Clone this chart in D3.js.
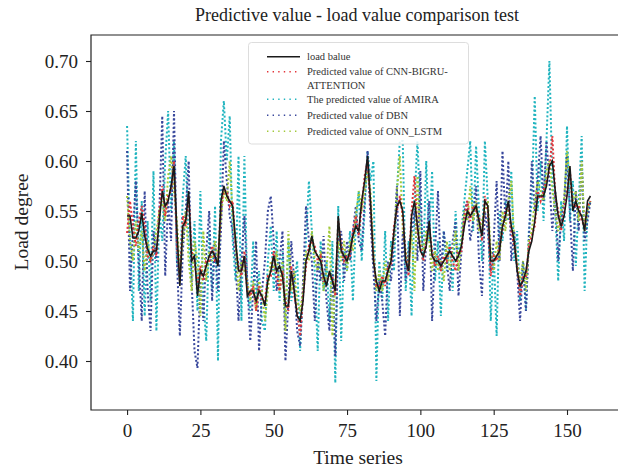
<!DOCTYPE html>
<html>
<head>
<meta charset="utf-8">
<script src="https://cdn.jsdelivr.net/npm/d3@7"></script>
<style>
  body { margin: 0; background: #fff; }
  svg { display: block; font-family: "Liberation Serif", "DejaVu Serif", serif; }
</style>
</head>
<body>
<div id="chart"></div>
<script>
// load value (black line)
const loadValue = [
  0.545,0.545,0.523,0.523,0.530,0.548,0.525,0.512,0.505,0.510,
  0.510,0.540,0.570,0.555,0.560,0.575,0.595,0.530,0.475,0.535,
  0.540,0.570,0.500,0.505,0.465,0.490,0.485,0.495,0.505,0.510,
  0.505,0.495,0.560,0.575,0.565,0.560,0.555,0.520,0.490,0.490,
  0.505,0.465,0.470,0.470,0.460,0.470,0.465,0.455,0.480,0.490,
  0.505,0.490,0.495,0.485,0.455,0.455,0.490,0.470,0.445,0.440,
  0.460,0.500,0.510,0.525,0.510,0.505,0.500,0.485,0.475,0.490,
  0.480,0.470,0.545,0.510,0.505,0.500,0.510,0.525,0.535,0.530,
  0.560,0.580,0.605,0.560,0.500,0.480,0.470,0.480,0.480,0.490,
  0.500,0.530,0.555,0.560,0.550,0.500,0.490,0.545,0.560,0.535,
  0.510,0.505,0.515,0.540,0.505,0.500,0.500,0.495,0.500,0.505,
  0.510,0.505,0.500,0.505,0.515,0.535,0.550,0.545,0.550,0.555,
  0.540,0.525,0.560,0.555,0.500,0.500,0.505,0.510,0.535,0.545,
  0.560,0.535,0.520,0.490,0.475,0.480,0.490,0.510,0.520,0.540,
  0.565,0.565,0.565,0.575,0.595,0.600,0.570,0.545,0.535,0.545,
  0.565,0.595,0.550,0.560,0.550,0.545,0.530,0.560,0.565
];

const cnnBigru = [
  0.528,0.560,0.535,0.515,0.540,0.555,0.535,0.505,0.500,0.515,
  0.505,0.550,0.575,0.545,0.565,0.570,0.600,0.515,0.480,0.545,
  0.535,0.565,0.510,0.500,0.475,0.495,0.480,0.500,0.500,0.515,
  0.500,0.500,0.555,0.570,0.570,0.555,0.560,0.515,0.495,0.485,
  0.510,0.470,0.465,0.475,0.450,0.475,0.460,0.460,0.485,0.485,
  0.510,0.485,0.470,0.490,0.460,0.450,0.495,0.465,0.450,0.425,
  0.465,0.495,0.515,0.520,0.515,0.500,0.505,0.480,0.480,0.485,
  0.485,0.465,0.540,0.515,0.500,0.505,0.505,0.530,0.545,0.525,
  0.555,0.585,0.600,0.555,0.505,0.475,0.475,0.485,0.475,0.495,
  0.495,0.535,0.550,0.565,0.545,0.505,0.485,0.550,0.585,0.530,
  0.515,0.500,0.520,0.535,0.510,0.495,0.505,0.490,0.505,0.500,
  0.515,0.500,0.490,0.510,0.510,0.540,0.560,0.540,0.555,0.550,
  0.545,0.520,0.565,0.550,0.485,0.505,0.500,0.515,0.530,0.550,
  0.555,0.530,0.515,0.495,0.465,0.485,0.485,0.515,0.525,0.535,
  0.570,0.560,0.570,0.580,0.590,0.625,0.565,0.550,0.530,0.550,
  0.570,0.590,0.555,0.555,0.555,0.540,0.535,0.555,0.560
];

const amira = [
  0.635,0.520,0.440,0.620,0.470,0.560,0.445,0.540,0.460,0.590,
  0.430,0.550,0.520,0.600,0.650,0.550,0.620,0.500,0.480,0.565,
  0.605,0.520,0.480,0.540,0.450,0.570,0.460,0.420,0.530,0.470,
  0.555,0.400,0.620,0.660,0.600,0.645,0.520,0.480,0.605,0.440,
  0.605,0.470,0.450,0.520,0.460,0.490,0.440,0.430,0.500,0.535,
  0.470,0.530,0.460,0.510,0.440,0.520,0.460,0.480,0.500,0.410,
  0.470,0.520,0.580,0.530,0.490,0.410,0.520,0.470,0.500,0.440,
  0.520,0.378,0.555,0.420,0.510,0.490,0.530,0.460,0.540,0.570,
  0.500,0.550,0.610,0.580,0.600,0.380,0.500,0.460,0.530,0.440,
  0.520,0.490,0.570,0.620,0.620,0.470,0.520,0.445,0.560,0.620,
  0.550,0.500,0.600,0.520,0.590,0.480,0.520,0.445,0.530,0.490,
  0.520,0.470,0.550,0.500,0.530,0.560,0.590,0.620,0.530,0.615,
  0.550,0.500,0.620,0.560,0.440,0.510,0.425,0.550,0.520,0.560,
  0.540,0.590,0.500,0.530,0.460,0.500,0.450,0.530,0.560,0.665,
  0.550,0.600,0.540,0.620,0.700,0.580,0.550,0.480,0.560,0.520,
  0.635,0.540,0.580,0.495,0.560,0.625,0.470,0.550,0.560
];

const dbn = [
  0.610,0.470,0.530,0.580,0.500,0.440,0.570,0.470,0.430,0.530,
  0.500,0.550,0.645,0.485,0.560,0.520,0.650,0.500,0.425,0.510,
  0.550,0.600,0.480,0.410,0.393,0.480,0.440,0.510,0.550,0.460,
  0.520,0.470,0.530,0.620,0.580,0.545,0.530,0.500,0.440,0.500,
  0.545,0.480,0.420,0.470,0.520,0.410,0.470,0.500,0.550,0.565,
  0.520,0.470,0.500,0.530,0.400,0.460,0.520,0.480,0.430,0.415,
  0.480,0.555,0.520,0.500,0.440,0.500,0.480,0.525,0.460,0.430,
  0.490,0.405,0.520,0.530,0.480,0.520,0.500,0.530,0.555,0.520,
  0.510,0.560,0.610,0.540,0.490,0.440,0.480,0.460,0.425,0.500,
  0.480,0.520,0.575,0.445,0.530,0.480,0.510,0.530,0.550,0.500,
  0.590,0.470,0.520,0.560,0.440,0.510,0.570,0.490,0.530,0.500,
  0.470,0.520,0.540,0.465,0.510,0.550,0.560,0.520,0.540,0.575,
  0.500,0.465,0.550,0.530,0.490,0.520,0.580,0.500,0.610,0.540,
  0.600,0.500,0.530,0.490,0.440,0.500,0.450,0.520,0.600,0.550,
  0.580,0.625,0.560,0.620,0.580,0.530,0.570,0.500,0.540,0.560,
  0.605,0.550,0.490,0.570,0.530,0.600,0.520,0.540,0.560
];

const onnLstm = [
  0.565,0.520,0.500,0.540,0.510,0.530,0.490,0.520,0.500,0.510,
  0.530,0.550,0.560,0.540,0.585,0.605,0.570,0.540,0.490,0.520,
  0.550,0.500,0.470,0.520,0.500,0.445,0.530,0.480,0.510,0.500,
  0.520,0.500,0.545,0.570,0.560,0.600,0.545,0.520,0.470,0.500,
  0.490,0.480,0.460,0.480,0.450,0.480,0.470,0.440,0.470,0.500,
  0.490,0.510,0.470,0.500,0.430,0.530,0.470,0.490,0.460,0.450,
  0.470,0.510,0.500,0.530,0.500,0.490,0.510,0.470,0.490,0.535,
  0.425,0.480,0.520,0.500,0.520,0.490,0.520,0.510,0.545,0.570,
  0.550,0.570,0.590,0.570,0.510,0.470,0.490,0.470,0.500,0.480,
  0.510,0.520,0.570,0.605,0.530,0.510,0.490,0.530,0.470,0.585,
  0.520,0.510,0.530,0.520,0.490,0.510,0.490,0.500,0.480,0.520,
  0.490,0.510,0.530,0.490,0.520,0.550,0.540,0.575,0.540,0.560,
  0.530,0.540,0.550,0.560,0.510,0.490,0.520,0.500,0.550,0.530,
  0.560,0.580,0.520,0.500,0.480,0.500,0.470,0.520,0.530,0.560,
  0.580,0.570,0.560,0.590,0.600,0.570,0.550,0.530,0.550,0.560,
  0.610,0.580,0.560,0.570,0.540,0.600,0.530,0.550,0.560
];

const seriesNames = [
  ["load balue"],
  ["Predicted value of CNN-BIGRU-", "ATTENTION"],
  ["The predicted value of AMIRA"],
  ["Predicted value of DBN"],
  ["Predicted value of ONN_LSTM"]
];
const xTicks = [0, 25, 50, 75, 100, 125, 150];
const yTicks = [0.40, 0.45, 0.50, 0.55, 0.60, 0.65, 0.70];

const width = 618, height = 470;
const margin = { top: 35, left: 91, bottom: 410 };

const svg = d3.select("#chart").append("svg")
  .attr("width", width)
  .attr("height", height);

const x = d3.scaleLinear().domain([-12.3, 171]).range([margin.left, 628.6]);
const y = d3.scaleLinear().domain([0.351, 0.726]).range([margin.bottom, margin.top]);

// legend order
const series = [
  { values: loadValue, color: "#1a1a1a", dotted: false, label: seriesNames[0], z: 4 },
  { values: cnnBigru, color: "#e3353a", dotted: true, label: seriesNames[1], z: 3 },
  { values: amira, color: "#20b4bf", dotted: true, label: seriesNames[2], z: 0 },
  { values: dbn, color: "#38479c", dotted: true, label: seriesNames[3], z: 1 },
  { values: onnLstm, color: "#a2c93a", dotted: true, label: seriesNames[4], z: 2 }
];

const line = d3.line().x((d, i) => x(i)).y(d => y(d));

svg.append("g")
  .selectAll("path")
  .data(series.slice().sort((a, b) => a.z - b.z))
  .join("path")
  .attr("fill", "none")
  .attr("stroke", d => d.color)
  .attr("stroke-width", d => d.dotted ? 2 : 1.6)
  .attr("stroke-dasharray", d => d.dotted ? "2,2.2" : null)
  .attr("d", d => line(d.values));

// frame (right side runs off the picture)
svg.append("path")
  .attr("fill", "none")
  .attr("stroke", "#222")
  .attr("stroke-width", 1.2)
  .attr("d", `M${width},${margin.top}H${margin.left}V${margin.bottom}H${width}`);

const xAxis = svg.append("g")
  .attr("transform", `translate(0,${margin.bottom})`)
  .call(d3.axisBottom(x).tickValues(xTicks).tickSize(5).tickPadding(9));
const yAxis = svg.append("g")
  .attr("transform", `translate(${margin.left},0)`)
  .call(d3.axisLeft(y).tickValues(yTicks).tickFormat(d3.format(".2f")).tickSize(5).tickPadding(8));

[xAxis, yAxis].forEach(g => {
  g.select(".domain").remove();
  g.selectAll("line").attr("stroke", "#222").attr("stroke-width", 1.1);
  g.selectAll("text")
    .attr("fill", "#222")
    .attr("font-family", "Liberation Serif, serif")
    .attr("font-size", 19);
});

svg.append("text")
  .attr("x", 357)
  .attr("y", 21)
  .attr("text-anchor", "middle")
  .attr("font-size", 18)
  .attr("fill", "#222")
  .text("Predictive value - load value comparison test");

svg.append("text")
  .attr("x", 358)
  .attr("y", 464)
  .attr("text-anchor", "middle")
  .attr("font-size", 19.5)
  .attr("fill", "#222")
  .text("Time series");

svg.append("text")
  .attr("transform", "translate(28,222) rotate(-90)")
  .attr("text-anchor", "middle")
  .attr("font-size", 19.5)
  .attr("fill", "#222")
  .text("Load degree");

// legend
const legend = svg.append("g");
legend.append("rect")
  .attr("x", 248.5).attr("y", 42.5)
  .attr("width", 220).attr("height", 101.5)
  .attr("rx", 3)
  .attr("fill", "#fff").attr("fill-opacity", 0.85)
  .attr("stroke", "#ddd");

const rowY = [56.7, 71.7, 99.3, 115.3, 131.3];
legend.selectAll("g.item")
  .data(series.map((s, i) => ({ s, y: rowY[i] })))
  .join("g")
  .attr("class", "item")
  .each(function(d) {
    const g = d3.select(this);
    g.append("line")
      .attr("x1", 267).attr("x2", 300)
      .attr("y1", d.y).attr("y2", d.y)
      .attr("stroke", d.s.color)
      .attr("stroke-width", d.s.dotted ? 1.4 : 1.6)
      .attr("stroke-dasharray", d.s.dotted ? "1.4,4.2" : null);
    d.s.label.forEach((t, k) => {
      g.append("text")
        .attr("x", 307)
        .attr("y", d.y + 3.5 + k * 13.3)
        .attr("font-size", 10.5)
        .attr("fill", "#333")
        .text(t);
    });
  });
</script>
</body>
</html>
